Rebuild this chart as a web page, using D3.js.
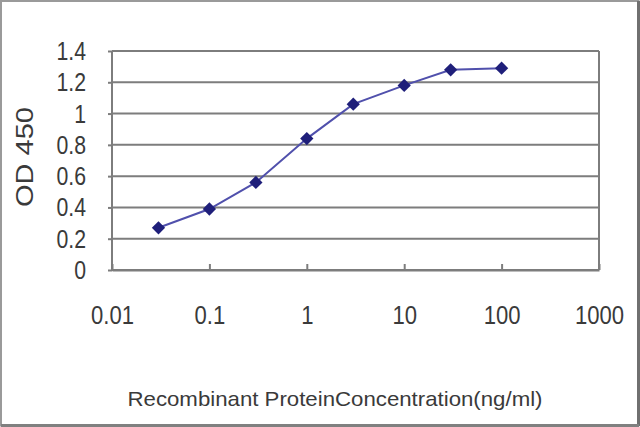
<!DOCTYPE html>
<html>
<head>
<meta charset="utf-8">
<script src="https://cdn.jsdelivr.net/npm/d3@7"></script>
<style>
  html, body { margin: 0; padding: 0; background: #fff; }
  svg { display: block; }
  text { font-family: "Liberation Sans", Arial, sans-serif; }
</style>
</head>
<body>
<svg id="chart" width="640" height="427"></svg>
<script>
const concentrations = [0.03, 0.1, 0.3, 1, 3, 10, 30, 100];
const odValues = [0.27, 0.39, 0.56, 0.84, 1.06, 1.18, 1.28, 1.29];
const xTickValues = [0.01, 0.1, 1, 10, 100, 1000];
const xTickLabels = ["0.01", "0.1", "1", "10", "100", "1000"];
const yTickValues = [0, 0.2, 0.4, 0.6, 0.8, 1, 1.2, 1.4];
const yTickLabels = ["0", "0.2", "0.4", "0.6", "0.8", "1", "1.2", "1.4"];
const xTitle = "Recombinant ProteinConcentration(ng/ml)";
const yTitle = "OD 450";

const W = 640, H = 427;
const plot = { left: 112, right: 599, top: 51, bottom: 270 };
const squeeze = 0.85;
const textColor = "#3a3a3a";
const svg = d3.select("#chart");

// outer frame
svg.append("rect").attr("x", 1).attr("y", 1).attr("width", W - 2.5).attr("height", H - 2.5)
  .attr("fill", "#fff").attr("stroke", "#9a9a9a").attr("stroke-width", 2);
svg.append("line").attr("x1", W - 1.5).attr("x2", W - 1.5).attr("y1", 1).attr("y2", H - 1)
  .attr("stroke", "#707070").attr("stroke-width", 3);
svg.append("line").attr("x1", 1).attr("x2", W - 1).attr("y1", H - 1.5).attr("y2", H - 1.5)
  .attr("stroke", "#808080").attr("stroke-width", 3);

const x = d3.scaleLog().domain([0.01, 1000]).range([plot.left, plot.right]);
const y = d3.scaleLinear().domain([0, 1.4]).range([plot.bottom, plot.top]);

const gridColor = "#7d7d7d";

// gridlines
svg.append("g").selectAll("line").data(yTickValues).join("line")
  .attr("x1", plot.left).attr("x2", plot.right)
  .attr("y1", d => y(d)).attr("y2", d => y(d))
  .attr("stroke", gridColor).attr("stroke-width", 2);

// plot border sides
svg.append("line").attr("x1", plot.left).attr("x2", plot.left).attr("y1", plot.top).attr("y2", plot.bottom)
  .attr("stroke", gridColor).attr("stroke-width", 2);
svg.append("line").attr("x1", plot.right).attr("x2", plot.right).attr("y1", plot.top).attr("y2", plot.bottom)
  .attr("stroke", gridColor).attr("stroke-width", 2);

// y axis
const yLabelRight = 86;
const yAxis = d3.axisLeft(y).tickValues(yTickValues)
  .tickFormat((d, i) => yTickLabels[i]).tickSize(4).tickPadding(plot.left - yLabelRight - 4);
const gy = svg.append("g").attr("transform", `translate(${plot.left},0)`).call(yAxis);
gy.select(".domain").remove();
gy.selectAll(".tick line").attr("stroke", gridColor).attr("stroke-width", 2);
gy.selectAll(".tick text").attr("fill", textColor).style("font-size", "25px")
  .attr("x", -(plot.left - yLabelRight) / squeeze)
  .attr("dy", "0.34em")
  .attr("transform", `scale(${squeeze},1)`);

// x axis
const xAxis = d3.axisBottom(x).tickValues(xTickValues)
  .tickFormat((d, i) => xTickLabels[i]).tickSizeInner(-6).tickSizeOuter(0).tickPadding(36);
const gx = svg.append("g").attr("transform", `translate(0,${plot.bottom})`).call(xAxis);
gx.select(".domain").attr("stroke", gridColor).attr("stroke-width", 2);
gx.selectAll(".tick line").attr("stroke", gridColor).attr("stroke-width", 2);
gx.selectAll(".tick text").attr("fill", textColor).style("font-size", "26px")
  .attr("transform", `scale(${squeeze},1)`);

// line
const pts = concentrations.map((c, i) => [c, odValues[i]]);
svg.append("path").datum(pts)
  .attr("d", d3.line().x(d => x(d[0])).y(d => y(d[1])))
  .attr("fill", "none").attr("stroke", "#5050ac").attr("stroke-width", 2);

// markers
svg.append("g").selectAll("path").data(pts).join("path")
  .attr("d", d3.symbol(d3.symbolSquare).size(88))
  .attr("transform", d => `translate(${x(d[0])},${y(d[1])}) rotate(45)`)
  .attr("fill", "#1f1f7a");

// titles
svg.append("text").attr("x", 335).attr("y", 406).attr("text-anchor", "middle")
  .attr("fill", textColor).style("font-size", "21px")
  .attr("textLength", 415).attr("lengthAdjust", "spacingAndGlyphs")
  .text(xTitle);
svg.append("text").attr("transform", "translate(33,157) rotate(-90)")
  .attr("text-anchor", "middle").attr("fill", textColor).style("font-size", "24px")
  .attr("textLength", 100).attr("lengthAdjust", "spacingAndGlyphs")
  .text(yTitle);
</script>
</body>
</html>
